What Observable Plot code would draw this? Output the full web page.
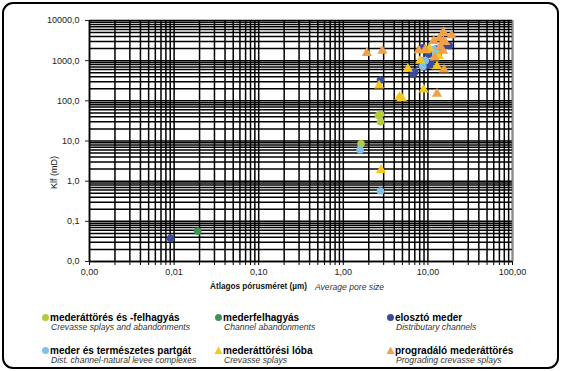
<!DOCTYPE html>
<html><head><meta charset="utf-8">
<script src="https://cdn.jsdelivr.net/npm/d3@7"></script>
<script src="https://cdn.jsdelivr.net/npm/@observablehq/plot@0.6"></script>
<style>
body{margin:0;width:561px;height:371px;background:#fff;font-family:"Liberation Sans",Arial,sans-serif;position:relative;overflow:hidden}
#frame{position:absolute;left:2px;top:2px;width:553px;height:363px;border:2.5px solid #000;border-radius:11px}
#chart{position:absolute;left:0;top:0}
.lbl{position:absolute;white-space:nowrap;color:#111;line-height:10px}
.item{position:absolute;white-space:nowrap}
.item b{display:block;font-size:10px;line-height:9px;height:9px;color:#000;font-weight:bold}
.item i{display:block;font-size:8.6px;line-height:8px;height:8px;color:#333;padding-left:1px;margin-top:1px}
.mk{position:absolute}
</style></head>
<body>
<div id="frame"></div>
<div id="chart"></div>
<div class="lbl" style="left:210px;top:282px;font-size:8.2px;font-weight:bold">Átlagos pórusméret (µm)</div>
<div class="lbl" style="left:315px;top:282px;font-size:8.6px;font-style:italic;color:#333">Average pore size</div>
<div class="lbl" style="left:49px;top:189px;font-size:9px;transform:rotate(-90deg);transform-origin:left top">Klf (mD)</div>
<div id="legend"></div>
<script>
// tick labels
const xTicks = [0.001, 0.01, 0.1, 1, 10, 100];
const xTickLabels = ["0,00", "0,01", "0,10", "1,00", "10,00", "100,00"];
const yTicks = [0.01, 0.1, 1, 10, 100, 1000, 10000];
const yTickLabels = ["0,0", "0,1", "1,0", "10,0", "100,0", "1000,0", "10000,0"];

// series
const seriesNames = ["mederáttörés és -felhagyás", "mederfelhagyás", "elosztó meder",
  "meder és természetes partgát", "mederáttörési lóba", "progradáló mederáttörés"];
const seriesEnglish = ["Crevasse splays and abandonments", "Channel abandonments", "Distributary channels",
  "Dist. channel-natural levee complexes", "Crevasse splays", "Prograding crevasse splays"];
const seriesColors = ["#b2cc3e", "#3e9552", "#3a4a9c", "#7fc4e8", "#f6c81e", "#efa048"];
const seriesSymbols = ["circle", "circle", "circle", "circle", "triangle", "triangle"];

const limeX = [2.6, 2.75, 2.75, 1.62];
const limeY = [43, 47, 30, 8.5];
const greenX = [0.019];
const greenY = [0.057];
const blueX = [0.0091, 2.75, 6.7, 7.0, 8.7, 8.5, 9.2, 10.2, 10.4, 10.8, 12.5, 13.2, 14.5, 16.3, 18.0, 9.0];
const blueY = [0.038, 330, 460, 520, 2100, 820, 1000, 1450, 780, 900, 1950, 1400, 2200, 2400, 2350, 700];
const lightX = [1.58, 2.75, 8.7, 9.3, 11.8, 12.6];
const lightY = [6.0, 0.57, 720, 1000, 1900, 1600];
const yellowX = [2.8, 2.65, 4.6, 4.9, 5.8, 8.9, 12.8, 8.1, 10.4, 9.5, 13.5];
const yellowY = [1.9, 240, 125, 118, 630, 190, 720, 1000, 2000, 1800, 1300];
const orangeX = [1.9, 2.9, 7.8, 11.7, 13.7, 15.3, 19.0, 15.2, 15.1, 12.0, 16.0, 15.5, 12.8, 14.0, 9.3];
const orangeY = [1550, 1750, 1800, 3100, 3600, 5100, 4300, 3100, 1750, 1200, 2900, 600, 150, 2200, 1900];

const seriesX = [limeX, greenX, blueX, lightX, yellowX, orangeX];
const seriesY = [limeY, greenY, blueY, lightY, yellowY, orangeY];

const points = seriesX.flatMap((xs, s) => xs.map((x, i) => ({x, y: seriesY[s][i], s})));

const decadesX = [0.001, 0.01, 0.1, 1, 10];
const decadesY = [0.01, 0.1, 1, 10, 100, 1000];
const mult = d3.range(1, 10);
const xGrid = decadesX.flatMap(d => mult.map(k => k * d)).concat([100]);
const yGrid = decadesY.flatMap(d => mult.map(k => k * d)).concat([10000]);
const xLab = new Map(xTicks.map((t, i) => [t, xTickLabels[i]]));
const yLab = new Map(yTicks.map((t, i) => [t, yTickLabels[i]]));

const chart = Plot.plot({
  width: 561, height: 300,
  marginLeft: 89, marginRight: 49, marginTop: 20, marginBottom: 39,
  style: {fontFamily: "Liberation Sans, Arial, sans-serif", fontSize: "9px", background: "transparent", color: "#222"},
  x: {type: "log", domain: [0.001, 100], label: null},
  y: {type: "log", domain: [0.01, 10000], label: null},
  marks: [
    Plot.ruleX(xGrid, {stroke: "#000", strokeWidth: 1.5}),
    Plot.ruleY(yGrid, {stroke: "#000", strokeWidth: 1.5}),
    Plot.ruleX([100], {stroke: "#888", strokeWidth: 1.5}),
    Plot.axisX(xGrid, {tickSize: 4, text: null, label: null, stroke: "#000"}),
    Plot.axisX(xTicks, {tickSize: 0, tickPadding: 7, tickFormat: d => xLab.get(d), label: null, fill: "#222"}),
    Plot.axisY(yTicks, {tickSize: 4, tickPadding: 6, tickFormat: d => yLab.get(d), label: null, fill: "#222"}),
    Plot.ruleY([0.01], {stroke: "#000", strokeWidth: 1.5}),
    Plot.ruleX([0.001], {stroke: "#000", strokeWidth: 1.5}),
    Plot.dot(points, {x: "x", y: "y", r: 3.8, fill: d => seriesColors[d.s],
      symbol: d => seriesSymbols[d.s], stroke: "none"})
  ]
});
document.getElementById("chart").append(chart);

// legend
const leg = document.getElementById("legend");
const colX = [50, 223, 395];
const rowY = [313, 346];
seriesNames.forEach((name, i) => {
  const col = i % 3, row = Math.floor(i / 3);
  const div = document.createElement("div");
  div.className = "item";
  div.style.left = colX[col] + "px";
  div.style.top = rowY[row] + "px";
  div.innerHTML = `<b>${name}</b><i>${seriesEnglish[i]}</i>`;
  const mk = document.createElementNS("http://www.w3.org/2000/svg", "svg");
  mk.setAttribute("width", 9); mk.setAttribute("height", 9);
  mk.setAttribute("class", "mk");
  mk.style.left = "-9px"; mk.style.top = "0px";
  mk.innerHTML = seriesSymbols[i] === "circle"
    ? `<circle cx="4.5" cy="4.5" r="3.5" fill="${seriesColors[i]}"/>`
    : `<path d="M4.5 0.5 L8.5 8 L0.5 8 Z" fill="${seriesColors[i]}"/>`;
  div.append(mk);
  leg.append(div);
});
</script>
</body></html>
